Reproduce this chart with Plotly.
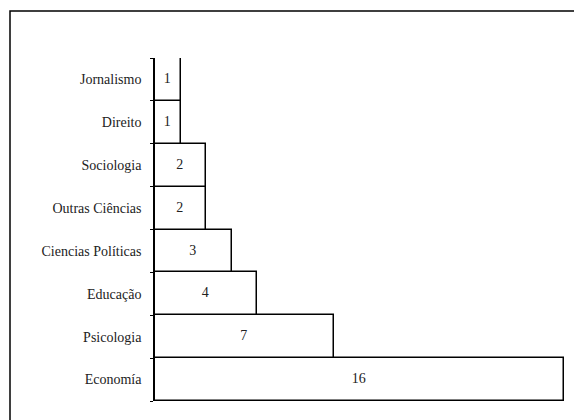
import plotly.graph_objects as go

categories = ["Economía", "Psicologia", "Educação", "Ciencias Políticas",
              "Outras Ciências", "Sociologia", "Direito", "Jornalismo"]
values = [16, 7, 4, 3, 2, 2, 1, 1]

FONT = "Liberation Serif"

fig = go.Figure(go.Bar(
    y=categories, x=values, orientation="h",
    marker=dict(color="white", line=dict(color="black", width=1.5)),
    text=[str(v) for v in values], textposition="inside",
    insidetextanchor="middle", textangle=0,
    textfont=dict(family=FONT, size=14, color="#222"),
    constraintext="none",
))

# page body adds an 8px offset, so the figure is drawn 8px smaller / shifted
OFF = 8
W, H = 582 - OFF, 420 - OFF
L, R, T, B = 155 - OFF, 18, 58 - OFF, 19
pw, ph = W - L - R, H - T - B

fig.update_layout(
    width=W, height=H,
    margin=dict(l=L, r=R, t=T, b=B),
    paper_bgcolor="white", plot_bgcolor="white",
    bargap=0, showlegend=False,
    font=dict(family=FONT, size=14, color="#222"),
    uniformtext=dict(minsize=14, mode="show"),
    xaxis=dict(visible=False, range=[0, 16], fixedrange=True),
    yaxis=dict(showline=True, linecolor="black", linewidth=1.5,
               ticks="outside", ticklen=3, tickcolor="black",
               tickson="boundaries", showgrid=False,
               ticklabelstandoff=9,
               categoryorder="array", categoryarray=categories,
               range=[-0.5, 7.5]),
    shapes=[dict(type="rect", xref="paper", yref="paper",
                 x0=-(L - (10 - OFF)) / pw, x1=(W + 20 - L) / pw,
                 y0=-(B + 20) / ph, y1=(H - B - (11 - OFF)) / ph,
                 line=dict(color="black", width=1.5), fillcolor="rgba(0,0,0,0)",
                 layer="below")],
)

fig.write_html("out.html")
